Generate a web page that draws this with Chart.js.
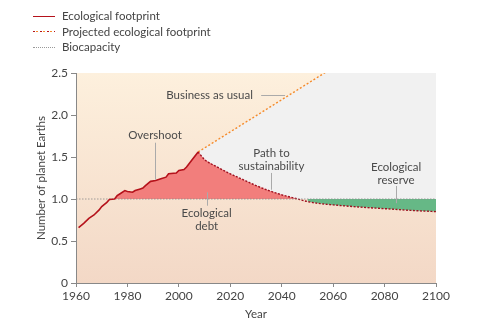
<!DOCTYPE html>
<html>
<head>
<meta charset="utf-8">
<script src="https://cdn.jsdelivr.net/npm/chart.js@4"></script>
<style>
  html,body{margin:0;padding:0;background:#fff;}
  #wrap{position:relative;width:498px;height:321px;}
  #legend{position:absolute;left:33px;top:8px;font:11.5px Lato,sans-serif;color:#444;}
  #legend div{height:15.5px;line-height:15.5px;white-space:nowrap;}
  #legend span.ln{display:inline-block;width:22px;height:0;vertical-align:middle;margin-right:7px;position:relative;top:-1px;}
</style>
</head>
<body>
<div id="wrap">
  <canvas id="fp" width="498" height="321"></canvas>
  <div id="legend"></div>
</div>
<script>
// legend entries
var legendLabels = ["Ecological footprint", "Projected ecological footprint", "Biocapacity"];

// historical ecological footprint (number of planet Earths)
var histYears = [1961, 1963, 1965, 1967, 1969, 1970, 1972, 1973, 1975, 1976, 1977, 1979, 1980, 1982, 1983, 1985, 1986, 1987, 1989, 1991, 1993, 1995, 1996, 1999, 2000, 2002, 2003, 2005, 2007.5];
var histValues = [0.66, 0.71, 0.77, 0.81, 0.87, 0.91, 0.96, 0.995, 1.0, 1.04, 1.06, 1.10, 1.09, 1.08, 1.10, 1.12, 1.13, 1.16, 1.21, 1.22, 1.24, 1.26, 1.30, 1.31, 1.34, 1.35, 1.38, 1.46, 1.56];

// path to sustainability
var pathYears = [2007.5, 2010, 2015, 2020, 2025, 2030, 2035, 2040, 2045, 2050, 2055, 2060, 2070, 2080, 2090, 2100];
var pathValues = [1.56, 1.47, 1.38, 1.30, 1.23, 1.16, 1.10, 1.05, 1.01, 0.97, 0.945, 0.93, 0.905, 0.885, 0.865, 0.85];

// business as usual
var bauYears = [2007.5, 2100];
var bauValues = [1.56, 3.33];

// biocapacity
var bioYears = [1960, 2100];
var bioValues = [1.0, 1.0];

var reserveFrom = 2050;

var xTicks = [1960, 1980, 2000, 2020, 2040, 2060, 2080, 2100];
var yTicks = [0, 0.5, 1.0, 1.5, 2.0, 2.5];

// annotations: text lines, anchor, leader line
var notes = [
  {lines: ["Business as usual"], x: 2028.8, y: 2.24, align: "right", lead: [[2032, 2.24], [2041.3, 2.24]]},
  {lines: ["Overshoot"], x: 1990.7, y: 1.76, align: "center", lead: [[1990.7, 1.67], [1990.7, 1.23]]},
  {lines: ["Path to", "sustainability"], x: 2036, y: 1.55, align: "center", lead: [[2036, 1.31], [2036, 1.11]]},
  {lines: ["Ecological", "reserve"], x: 2084.5, y: 1.38, align: "center", lead: [[2084.5, 1.155], [2084.5, 0.95]]},
  {lines: ["Ecological", "debt"], x: 2010.8, y: 0.83, align: "center", lead: [[2010.8, 1.08], [2010.8, 0.92]]}
];

function pts(xs, ys) { return xs.map(function (x, i) { return {x: x, y: ys[i]}; }); }

var FONT = 'Lato, sans-serif';
var RED_FILL = "#f27e7c";
var NONE = "rgba(0,0,0,0)";

var bgPlugin = {
  id: "bg",
  beforeDraw: function (chart) {
    var a = chart.chartArea, ctx = chart.ctx;
    var g = ctx.createLinearGradient(0, a.top, 0, a.bottom);
    g.addColorStop(0, "#fdf0dd");
    g.addColorStop(1, "#f3d8c6");
    ctx.save();
    ctx.fillStyle = g;
    ctx.fillRect(a.left, a.top, a.right - a.left, a.bottom - a.top);
    ctx.restore();
  }
};

var notePlugin = {
  id: "notes",
  afterDatasetsDraw: function (chart) {
    var ctx = chart.ctx, xs = chart.scales.x, ys = chart.scales.y;
    ctx.save();
    ctx.font = "11.5px " + FONT;
    ctx.fillStyle = "#4a4a4a";
    ctx.strokeStyle = "#aaa";
    ctx.lineWidth = 1;
    ctx.textBaseline = "middle";
    notes.forEach(function (n) {
      ctx.beginPath();
      if (n.lead[0][1] === n.lead[1][1]) {
        var yy = Math.round(ys.getPixelForValue(n.lead[0][1])) + 0.5;
        ctx.moveTo(xs.getPixelForValue(n.lead[0][0]), yy);
        ctx.lineTo(xs.getPixelForValue(n.lead[1][0]), yy);
      } else {
        var xx = Math.round(xs.getPixelForValue(n.lead[0][0])) + 0.5;
        ctx.moveTo(xx, ys.getPixelForValue(n.lead[0][1]));
        ctx.lineTo(xx, ys.getPixelForValue(n.lead[1][1]));
      }
      ctx.stroke();
      ctx.textAlign = n.align;
      n.lines.forEach(function (t, i) {
        ctx.fillText(t, xs.getPixelForValue(n.x), ys.getPixelForValue(n.y) + i * 13.5);
      });
    });
    ctx.restore();
  }
};

// ecological debt area = history followed by the path (one polygon, no seam)
var debtPts = pts(histYears, histValues).concat(pts(pathYears, pathValues).slice(1));

new Chart(document.getElementById("fp"), {
  type: "line",
  data: {
    datasets: [
      {
        label: legendLabels[0],
        data: pts(histYears, histValues),
        borderColor: "#b5121b",
        borderWidth: 1.6,
        pointRadius: 0,
        tension: 0,
        fill: false
      },
      {
        label: legendLabels[2],
        data: pts(bioYears, bioValues),
        borderColor: "#8a8a8a",
        borderWidth: 0.8,
        borderDash: [1.5, 1.5],
        pointRadius: 0,
        fill: false
      },
      {
        label: legendLabels[1],
        data: pts(pathYears, pathValues),
        borderColor: "#9e1020",
        borderWidth: 1.4,
        borderDash: [2, 1.5],
        pointRadius: 0,
        cubicInterpolationMode: "monotone",
        fill: false
      },
      {
        label: "Ecological debt",
        data: debtPts,
        borderWidth: 1,
        borderColor: NONE,
        pointRadius: 0,
        tension: 0,
        fill: {target: {value: 1}, above: RED_FILL, below: NONE}
      },
      {
        label: "Business as usual",
        data: pts(bauYears, bauValues),
        borderColor: "#f58a2a",
        borderWidth: 1.4,
        borderDash: [2, 2],
        pointRadius: 0,
        fill: {target: {value: 1}, above: "#f1f1f1", below: NONE}
      },
      {
        label: "Ecological reserve",
        data: pts(pathYears, pathValues).filter(function (p) { return p.x >= reserveFrom; }),
        borderWidth: 1,
        borderColor: NONE,
        pointRadius: 0,
        cubicInterpolationMode: "monotone",
        fill: {target: {value: 1}, above: NONE, below: "#66b886"}
      }
    ]
  },
  options: {
    responsive: false,
    animation: false,
    layout: {padding: {top: 73, right: 62, bottom: 0, left: 16}},
    plugins: {legend: {display: false}, tooltip: {enabled: false}},
    scales: {
      x: {
        type: "linear",
        min: 1960, max: 2100,
        afterBuildTicks: function (s) { s.ticks = xTicks.map(function (v) { return {value: v}; }); },
        afterFit: function (s) { s.height = 38; },
        ticks: {color: "#444", font: {family: FONT, size: 12}, padding: 2, maxRotation: 0,
          callback: function (v) { return String(v); }},
        grid: {drawOnChartArea: false, drawTicks: true, tickLength: 4, color: "#888"},
        border: {display: true, color: "#888"},
        title: {display: true, text: "Year", color: "#444", font: {family: FONT, size: 11.5}, padding: {top: 0, bottom: 0}}
      },
      y: {
        min: 0, max: 2.5,
        afterBuildTicks: function (s) { s.ticks = yTicks.map(function (v) { return {value: v}; }); },
        afterFit: function (s) { s.width = 60; },
        ticks: {color: "#444", font: {family: FONT, size: 12}, padding: 3,
          callback: function (v) { return v === 0 ? "0" : v.toFixed(1); }},
        grid: {drawOnChartArea: false, drawTicks: true, tickLength: 5, color: "#888"},
        border: {display: true, color: "#888"},
        title: {display: true, text: "Number of planet Earths", color: "#444", font: {family: FONT, size: 11.5}, padding: {top: 18, bottom: 0}}
      }
    }
  },
  plugins: [bgPlugin, notePlugin]
});

// legend
var lg = document.getElementById("legend");
var styles = [
  "border-top:1.6px solid #b5121b;",
  "height:1.6px;background:repeating-linear-gradient(90deg,#b5121b 0 2px,transparent 2px 3.5px,#f58a2a 3.5px 5.5px,transparent 5.5px 7px);",
  "border-top:1px dotted #999;"
];
legendLabels.forEach(function (t, i) {
  var d = document.createElement("div");
  var s = document.createElement("span");
  s.className = "ln";
  s.setAttribute("style", styles[i]);
  d.appendChild(s);
  d.appendChild(document.createTextNode(t));
  lg.appendChild(d);
});
</script>
</body>
</html>
